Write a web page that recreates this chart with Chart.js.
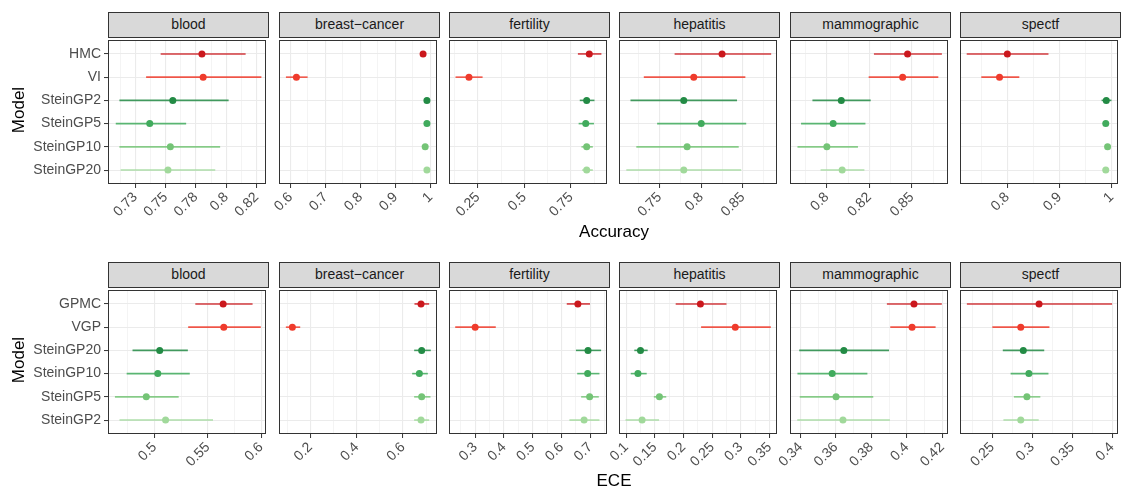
<!DOCTYPE html>
<html>
<head>
<meta charset="utf-8">
<script src="https://cdn.jsdelivr.net/npm/chart.js"></script>
<style>
  body { margin: 0; background: #fff; font-family: "Liberation Sans", Arial, sans-serif; }
  #wrap { position: relative; width: 1122px; height: 486px; overflow: hidden; }
  #wrap canvas { position: absolute; }
  .strip { position: absolute; box-sizing: border-box; width: 161px; height: 26px; background: #d9d9d9;
           border: 1px solid #333; color: #1a1a1a; font-size: 14px; line-height: 23px; text-align: center; }
  .title { position: absolute; font-size: 17px; color: #000; white-space: nowrap; }
</style>
</head>
<body>
<div id="wrap"></div>
<script>
// facets and models
const datasetNames = ['blood', 'breast\u2212cancer', 'fertility', 'hepatitis', 'mammographic', 'spectf'];
const accModels = ['HMC', 'VI', 'SteinGP2', 'SteinGP5', 'SteinGP10', 'SteinGP20'];
const eceModels = ['GPMC', 'VGP', 'SteinGP20', 'SteinGP10', 'SteinGP5', 'SteinGP2'];
const modelColors = ['#cb181d', '#ef3b2c', '#238b45', '#41ab5d', '#74c476', '#a1d99b'];

// accuracy, one row per dataset, values in model order
const accMean = [
  [0.780, 0.781, 0.756, 0.737, 0.754, 0.752],
  [0.979, 0.617, 0.990, 0.990, 0.985, 0.990],
  [0.848, 0.203, 0.834, 0.829, 0.834, 0.834],
  [0.825, 0.791, 0.779, 0.800, 0.783, 0.779],
  [0.8475, 0.8446, 0.8085, 0.8037, 0.800, 0.809],
  [0.800, 0.785, 0.990, 0.989, 0.9925, 0.989]
];
const accLow = [
  [0.746, 0.734, 0.712, 0.709, 0.712, 0.713],
  [0.976, 0.587, 0.986, 0.986, 0.982, 0.987],
  [0.787, 0.131, 0.797, 0.791, 0.806, 0.810],
  [0.768, 0.731, 0.715, 0.747, 0.722, 0.710],
  [0.8277, 0.8246, 0.7915, 0.7848, 0.7827, 0.7963],
  [0.722, 0.750, 0.981, 0.985, 0.990, 0.983]
];
const accHigh = [
  [0.816, 0.829, 0.802, 0.767, 0.795, 0.791],
  [0.982, 0.649, 0.994, 0.994, 0.988, 0.993],
  [0.913, 0.276, 0.876, 0.873, 0.867, 0.867],
  [0.884, 0.853, 0.843, 0.854, 0.845, 0.848],
  [0.8677, 0.8656, 0.8258, 0.8227, 0.8183, 0.8221],
  [0.879, 0.823, 1.000, 0.993, 0.995, 0.995]
];
const accRange = [[0.7026, 0.8328], [0.5672, 1.0188], [0.096, 0.943], [0.7012, 0.891], [0.7783, 0.8713], [0.7091, 1.0125]];
const accTicks = [
  [0.725, 0.75, 0.775, 0.8, 0.825],
  [0.6, 0.7, 0.8, 0.9, 1],
  [0.25, 0.5, 0.75],
  [0.75, 0.8, 0.85],
  [0.8, 0.825, 0.85],
  [0.8, 0.9, 1]
];
const accTickLabels = [
  ['0.73', '0.75', '0.78', '0.8', '0.82'],
  ['0.6', '0.7', '0.8', '0.9', '1'],
  ['0.25', '0.5', '0.75'],
  ['0.75', '0.8', '0.85'],
  ['0.8', '0.82', '0.85'],
  ['0.8', '0.9', '1']
];

// ECE
const eceMean = [
  [0.5644, 0.565, 0.5049, 0.5031, 0.4923, 0.5104],
  [0.6775, 0.1225, 0.6803, 0.6704, 0.6803, 0.6775],
  [0.6568, 0.300, 0.692, 0.6909, 0.6977, 0.6784],
  [0.2295, 0.2903, 0.125, 0.1205, 0.158, 0.1278],
  [0.4041, 0.403, 0.3645, 0.3579, 0.3601, 0.364],
  [0.3085, 0.2856, 0.2888, 0.2958, 0.2933, 0.2856]
];
const eceLow = [
  [0.5383, 0.5316, 0.4794, 0.4739, 0.4629, 0.4672],
  [0.6493, 0.0944, 0.6479, 0.6394, 0.6479, 0.6479],
  [0.6182, 0.2307, 0.650, 0.6545, 0.6682, 0.6273],
  [0.1864, 0.2307, 0.1142, 0.108, 0.1483, 0.0989],
  [0.3888, 0.3907, 0.3393, 0.3383, 0.3396, 0.3382],
  [0.2181, 0.250, 0.2631, 0.2729, 0.277, 0.2639]
];
const eceHigh = [
  [0.592, 0.5997, 0.5313, 0.5331, 0.5227, 0.5549],
  [0.7127, 0.1563, 0.7197, 0.707, 0.7183, 0.7127],
  [0.6989, 0.3716, 0.7375, 0.7318, 0.7295, 0.7318],
  [0.275, 0.3523, 0.1375, 0.1358, 0.1699, 0.1574],
  [0.4198, 0.4163, 0.390, 0.3778, 0.3811, 0.3905],
  [0.400, 0.3215, 0.315, 0.3203, 0.3101, 0.3081]
];
const eceRange = [[0.4564, 0.6046], [0.0648, 0.7465], [0.2091, 0.758], [0.0875, 0.3631], [0.3341, 0.4233], [0.2095, 0.4074]];
const eceTicks = [
  [0.5, 0.55, 0.6],
  [0.2, 0.4, 0.6],
  [0.3, 0.4, 0.5, 0.6, 0.7],
  [0.1, 0.15, 0.2, 0.25, 0.3, 0.35],
  [0.34, 0.36, 0.38, 0.4, 0.42],
  [0.25, 0.3, 0.35, 0.4]
];
const eceTickLabels = eceTicks.map(row => row.map(v => String(v)));

// layout
const panelLeft = [108, 279, 449, 619, 790, 960];
const panelW = 161, panelH = 147, axisH = 50;
const rowTop = [37, 287];

Chart.defaults.font.family = "'Liberation Sans', Arial, sans-serif";
const wrap = document.getElementById('wrap');

function fade(hex, a) {
  const n = parseInt(hex.slice(1), 16);
  return `rgba(${n >> 16},${(n >> 8) & 255},${n & 255},${a})`;
}

function minorTicks(majors, lo, hi) {
  const step = majors[1] - majors[0];
  const ext = [majors[0] - step].concat(majors, [majors[majors.length - 1] + step]);
  const out = [];
  for (let i = 0; i < ext.length - 1; i++) {
    const m = (ext[i] + ext[i + 1]) / 2;
    if (m > lo && m < hi) out.push(m);
  }
  return out;
}

const panelBorder = {
  id: 'panelBorder',
  afterDraw(chart) {
    const a = chart.chartArea, c = chart.ctx;
    c.save();
    c.strokeStyle = '#333';
    c.lineWidth = 1;
    c.strokeRect(a.left + 0.5, a.top + 0.5, a.width - 1, a.height - 1);
    c.restore();
  }
};

function addText(cls, text, css) {
  const d = document.createElement('div');
  d.className = cls;
  d.textContent = text;
  Object.assign(d.style, css);
  wrap.appendChild(d);
}

function makePanel(row, col, models, mean, low, high, ticks, tickLabels, range) {
  const first = col === 0;
  const padL = first ? panelLeft[0] : 40;
  const cv = document.createElement('canvas');
  cv.width = padL + panelW + 1;
  cv.height = 1 + panelH + axisH;
  cv.style.left = (panelLeft[col] - padL) + 'px';
  cv.style.top = (rowTop[row] - 1) + 'px';
  wrap.appendChild(cv);

  const minors = minorTicks(ticks, range[0], range[1]);
  const allTicks = ticks.concat(minors).sort((a, b) => a - b);
  const majorIdx = v => ticks.findIndex(t => Math.abs(t - v) < 1e-9);

  const sets = [{
    data: mean.map((m, i) => ({ x: m, y: i })),
    pointRadius: 3.5,
    pointBackgroundColor: modelColors,
    pointBorderWidth: 0
  }];
  models.forEach((m, i) => sets.push({
    data: [{ x: low[i], y: i }, { x: high[i], y: i }],
    showLine: true,
    borderColor: fade(modelColors[i], 0.85),
    borderWidth: 1.6,
    pointRadius: 0
  }));

  new Chart(cv, {
    type: 'scatter',
    data: { datasets: sets },
    options: {
      responsive: false,
      animation: false,
      layout: { padding: { top: 1, right: 1, left: 0, bottom: 0 } },
      plugins: { legend: { display: false }, tooltip: { enabled: false } },
      scales: {
        x: {
          min: range[0], max: range[1],
          afterBuildTicks: s => { s.ticks = allTicks.map(v => ({ value: v })); },
          afterFit: s => { s.height = axisH; s.paddingLeft = 0; s.paddingRight = 0; },
          ticks: {
            autoSkip: false, maxRotation: 45, minRotation: 45,
            color: '#4d4d4d', font: { size: 14 }, padding: 1,
            callback: v => { const k = majorIdx(v); return k < 0 ? '' : tickLabels[k]; }
          },
          grid: {
            color: '#ebebeb',
            lineWidth: c => majorIdx(c.tick.value) < 0 ? 0.55 : 1.1,
            tickLength: 4,
            tickWidth: 1,
            tickColor: c => majorIdx(c.tick.value) < 0 ? 'rgba(0,0,0,0)' : '#333'
          },
          border: { display: false }
        },
        y: {
          min: -0.6, max: 5.6, reverse: true,
          afterBuildTicks: s => { s.ticks = models.map((m, i) => ({ value: i })); },
          afterFit: s => { s.width = padL; s.paddingTop = 0; s.paddingBottom = 0; },
          ticks: { display: first, color: '#4d4d4d', font: { size: 14 }, padding: 3, callback: v => models[v] },
          grid: { color: '#ebebeb', lineWidth: 1.1, drawTicks: first, tickLength: 4, tickColor: '#333', tickWidth: 1 },
          border: { display: false }
        }
      }
    },
    plugins: [panelBorder]
  });

  addText('strip', datasetNames[col], { left: panelLeft[col] + 'px', top: (rowTop[row] - 25) + 'px' });
}

for (let j = 0; j < 6; j++) {
  makePanel(0, j, accModels, accMean[j], accLow[j], accHigh[j], accTicks[j], accTickLabels[j], accRange[j]);
  makePanel(1, j, eceModels, eceMean[j], eceLow[j], eceHigh[j], eceTicks[j], eceTickLabels[j], eceRange[j]);
}

addText('title', 'Accuracy', { left: '614px', top: '232px', transform: 'translate(-50%,-50%)' });
addText('title', 'ECE', { left: '614px', top: '481px', transform: 'translate(-50%,-50%)' });
addText('title', 'Model', { left: '19px', top: '110px', transform: 'translate(-50%,-50%) rotate(-90deg)' });
addText('title', 'Model', { left: '19px', top: '360px', transform: 'translate(-50%,-50%) rotate(-90deg)' });
</script>
</body>
</html>
